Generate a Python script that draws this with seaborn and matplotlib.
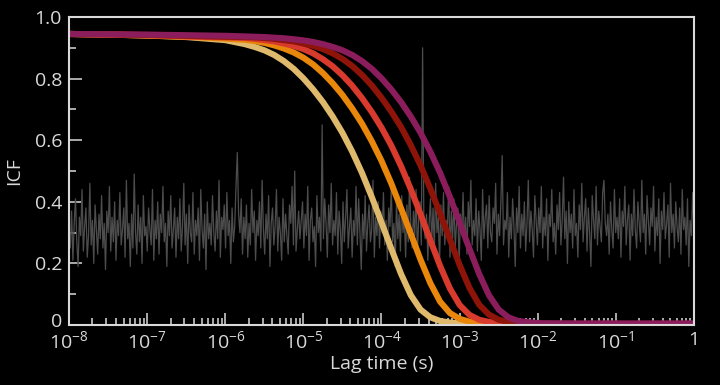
import numpy as np
import pandas as pd
import seaborn as sns
import matplotlib.pyplot as plt
from matplotlib.transforms import ScaledTranslation
from matplotlib.ticker import FixedLocator, FixedFormatter, LogLocator, NullFormatter

# lag-time grid (log10 seconds) shared by the five correlation curves
log_lag = [-8, -7.5, -7, -6.5, -6,
           -5.75, -5.625, -5.5, -5.375, -5.25, -5.125, -5.0, -4.875, -4.75, -4.625,
           -4.5, -4.375, -4.25, -4.125, -4.0, -3.875, -3.75, -3.625, -3.5, -3.375,
           -3.25, -3.125, -3.0, -2.875, -2.75, -2.625, -2.5, -2.375, -2.25,
           -2.0, -1.5, -1.0, -0.5, 0]

icf_yellow = [0.945, 0.943, 0.94, 0.935, 0.925,
              0.912, 0.903, 0.892, 0.877, 0.857, 0.832, 0.801, 0.765, 0.724, 0.677,
              0.624, 0.563, 0.494, 0.416, 0.333, 0.248, 0.166, 0.097, 0.050, 0.025,
              0.013, 0.008, 0.005, 0.004, 0.003, 0.003, 0.002, 0.002, 0.002,
              0.002, 0.002, 0.002, 0.002, 0.002]
icf_orange = [0.945, 0.943, 0.94, 0.936, 0.93,
              0.926, 0.922, 0.916, 0.908, 0.898, 0.885, 0.868, 0.846, 0.818, 0.785,
              0.747, 0.703, 0.654, 0.597, 0.533, 0.460, 0.379, 0.296, 0.212, 0.136,
              0.076, 0.039, 0.020, 0.011, 0.007, 0.005, 0.004, 0.003, 0.003,
              0.003, 0.003, 0.003, 0.003, 0.003]
icf_red = [0.945, 0.943, 0.941, 0.937, 0.934,
           0.932, 0.929, 0.925, 0.921, 0.914, 0.906, 0.896, 0.882, 0.863, 0.840,
           0.811, 0.777, 0.737, 0.692, 0.641, 0.583, 0.516, 0.441, 0.360, 0.275,
           0.192, 0.119, 0.065, 0.033, 0.017, 0.010, 0.006, 0.005, 0.004,
           0.003, 0.003, 0.003, 0.003, 0.003]
icf_darkred = [0.945, 0.944, 0.942, 0.939, 0.936,
               0.935, 0.934, 0.932, 0.929, 0.925, 0.921, 0.914, 0.906, 0.896, 0.882,
               0.864, 0.841, 0.812, 0.778, 0.738, 0.693, 0.643, 0.584, 0.518, 0.443,
               0.362, 0.278, 0.195, 0.121, 0.066, 0.034, 0.017, 0.010, 0.007,
               0.004, 0.004, 0.004, 0.004, 0.004]
icf_purple = [0.945, 0.944, 0.943, 0.941, 0.939,
              0.937, 0.936, 0.935, 0.933, 0.931, 0.928, 0.924, 0.919, 0.912, 0.903,
              0.892, 0.877, 0.857, 0.832, 0.801, 0.765, 0.724, 0.677, 0.624, 0.563,
              0.494, 0.416, 0.333, 0.248, 0.166, 0.097, 0.050, 0.025, 0.013,
              0.006, 0.005, 0.005, 0.005, 0.005]

curve_names = ["c1", "c2", "c3", "c4", "c5"]
curve_colors = ["#dfb96c", "#e8870c", "#d93a2e", "#8e1409", "#8b1d5c"]

# background (uncorrelated) trace, evenly spaced in log time
noise_icf = [
    0.30, 0.25, 0.37, 0.21, 0.33, 0.41, 0.27, 0.19, 0.35, 0.29, 0.44, 0.24,
    0.32, 0.38, 0.22, 0.29, 0.46, 0.26, 0.34, 0.20, 0.39, 0.31, 0.23, 0.36,
    0.28, 0.42, 0.25, 0.33, 0.18, 0.37, 0.30, 0.45, 0.24, 0.35, 0.27, 0.40,
    0.21, 0.34, 0.29, 0.43, 0.26, 0.31, 0.38, 0.22, 0.47, 0.28, 0.33, 0.19,
    0.36, 0.25, 0.49, 0.30, 0.23, 0.39, 0.27, 0.35, 0.20, 0.42, 0.29, 0.32,
    0.24, 0.38, 0.31, 0.26, 0.44, 0.21, 0.34, 0.28, 0.40, 0.23, 0.36, 0.30,
    0.45, 0.27, 0.33, 0.19, 0.37, 0.29, 0.42, 0.25, 0.31, 0.38, 0.22, 0.35,
    0.28, 0.41, 0.24, 0.32, 0.46, 0.26, 0.36, 0.20, 0.39, 0.30, 0.27, 0.43,
    0.23, 0.34, 0.29, 0.38, 0.21, 0.44, 0.31, 0.25, 0.36, 0.18, 0.40, 0.28,
    0.33, 0.26, 0.42, 0.30, 0.24, 0.37, 0.28, 0.47, 0.22, 0.35, 0.31, 0.39,
    0.25, 0.43, 0.29, 0.34, 0.20, 0.38, 0.27, 0.32, 0.45, 0.56, 0.36, 0.30,
    0.41, 0.23, 0.35, 0.28, 0.39, 0.22, 0.33, 0.26, 0.44, 0.30, 0.37, 0.21,
    0.34, 0.29, 0.40, 0.25, 0.47, 0.31, 0.23, 0.36, 0.28, 0.42, 0.19, 0.33,
    0.38, 0.26, 0.32, 0.44, 0.24, 0.35, 0.30, 0.21, 0.41, 0.27, 0.36, 0.29,
    0.23, 0.39, 0.33, 0.45, 0.26, 0.50, 0.24, 0.31, 0.37, 0.28, 0.34, 0.40,
    0.25, 0.36, 0.29, 0.45, 0.21, 0.34, 0.38, 0.27, 0.32, 0.19, 0.42, 0.30,
    0.35, 0.24, 0.65, 0.28, 0.41, 0.33, 0.22, 0.39, 0.30, 0.46, 0.26, 0.34,
    0.29, 0.43, 0.23, 0.37, 0.31, 0.20, 0.40, 0.27, 0.35, 0.44, 0.25, 0.32,
    0.38, 0.22, 0.34, 0.29, 0.45, 0.26, 0.41, 0.30, 0.18, 0.36, 0.28, 0.42,
    0.24, 0.33, 0.39, 0.27, 0.31, 0.47, 0.22, 0.35, 0.29, 0.40, 0.25, 0.37,
    0.30, 0.43, 0.26, 0.34, 0.21, 0.38, 0.32, 0.45, 0.27, 0.33, 0.19, 0.41,
    0.28, 0.36, 0.24, 0.42, 0.30, 0.35, 0.22, 0.39, 0.27, 0.48, 0.31, 0.25,
    0.37, 0.29, 0.44, 0.23, 0.34, 0.40, 0.26, 0.90, 0.32, 0.28, 0.36, 0.21,
    0.33, 0.41, 0.27, 0.38, 0.24, 0.46, 0.30, 0.35, 0.20, 0.39, 0.29, 0.43,
    0.26, 0.34, 0.31, 0.45, 0.22, 0.37, 0.28, 0.41, 0.25, 0.33, 0.38, 0.19,
    0.36, 0.30, 0.43, 0.27, 0.35, 0.23, 0.40, 0.32, 0.47, 0.26, 0.34, 0.29,
    0.41, 0.24, 0.37, 0.31, 0.21, 0.44, 0.28, 0.35, 0.39, 0.25, 0.42, 0.30,
    0.27, 0.38, 0.33, 0.46, 0.23, 0.36, 0.29, 0.40, 0.55, 0.26, 0.34, 0.31,
    0.43, 0.22, 0.35, 0.28, 0.41, 0.32, 0.19, 0.38, 0.30, 0.45, 0.25, 0.36,
    0.29, 0.40, 0.24, 0.33, 0.47, 0.27, 0.37, 0.31, 0.22, 0.42, 0.34, 0.26,
    0.38, 0.30, 0.45, 0.25, 0.35, 0.29, 0.41, 0.21, 0.36, 0.32, 0.44, 0.27,
    0.33, 0.23, 0.39, 0.31, 0.43, 0.26, 0.34, 0.48, 0.28, 0.37, 0.20, 0.40,
    0.30, 0.36, 0.25, 0.44, 0.29, 0.33, 0.22, 0.39, 0.31, 0.46, 0.27, 0.35,
    0.41, 0.24, 0.38, 0.30, 0.19, 0.42, 0.34, 0.28, 0.45, 0.26, 0.37, 0.32,
    0.27, 0.43, 0.47, 0.33, 0.29, 0.36, 0.23, 0.40, 0.31, 0.25, 0.44, 0.30,
    0.35, 0.28, 0.41, 0.22, 0.37, 0.32, 0.45, 0.26, 0.34, 0.39, 0.21, 0.36,
    0.29, 0.44, 0.31, 0.25, 0.40, 0.33, 0.27, 0.47, 0.30, 0.36, 0.23, 0.42,
    0.34, 0.26, 0.38, 0.32, 0.45, 0.24, 0.35, 0.29, 0.41, 0.20, 0.37, 0.31,
    0.43, 0.28, 0.33, 0.39, 0.22, 0.46, 0.30, 0.36, 0.25, 0.40, 0.32, 0.27,
    0.38, 0.23, 0.44, 0.31, 0.35, 0.26, 0.41, 0.19, 0.34, 0.29, 0.43, 0.30,
]

x_ticks = [1e-8, 1e-7, 1e-6, 1e-5, 1e-4, 1e-3, 1e-2, 1e-1, 1]
x_labels = [r"$10^{-8}$", r"$10^{-7}$", r"$10^{-6}$", r"$10^{-5}$", r"$10^{-4}$",
            r"$10^{-3}$", r"$10^{-2}$", r"$10^{-1}$", "1"]
y_ticks = [0, 0.2, 0.4, 0.6, 0.8, 1.0]
y_labels = ["0", "0.2", "0.4", "0.6", "0.8", "1.0"]

lag = 10.0 ** np.array(log_lag)
df = pd.concat([
    pd.DataFrame({"lag": lag, "icf": vals, "sample": name})
    for name, vals in zip(curve_names,
                          [icf_yellow, icf_orange, icf_red, icf_darkred, icf_purple])
])
noise_lag = np.logspace(-8, 0, len(noise_icf))

fg = "#d9d9d9"
sns.set_style("ticks")
plt.rcParams["font.family"] = ["Open Sans", "DejaVu Sans"]
plt.rcParams["mathtext.fontset"] = "custom"
plt.rcParams["mathtext.rm"] = "Open Sans"
plt.rcParams["mathtext.it"] = "Open Sans:italic"
plt.rcParams["mathtext.bf"] = "Open Sans:bold"

fig = plt.figure(figsize=(7.2, 3.85), dpi=100, facecolor="black")
ax = fig.add_axes([0.0958, 0.1558, 0.8681, 0.8])
ax.set_facecolor("black")
ax.set_xscale("log")

sns.lineplot(x=noise_lag, y=noise_icf, color="#4d4d4d", lw=0.9, sort=False, ax=ax)
sns.lineplot(data=df, x="lag", y="icf", hue="sample", hue_order=curve_names,
             palette=curve_colors, lw=4.4, estimator=None, sort=False,
             legend=False, ax=ax, solid_capstyle="round", solid_joinstyle="round")

ax.set_xlim(1e-8, 1)
ax.set_ylim(0, 1)

ax.xaxis.set_major_locator(FixedLocator(x_ticks))
ax.xaxis.set_major_formatter(FixedFormatter(x_labels))
ax.xaxis.set_minor_locator(LogLocator(base=10, subs=np.arange(2, 10), numticks=20))
ax.xaxis.set_minor_formatter(NullFormatter())
ax.yaxis.set_major_locator(FixedLocator(y_ticks))
ax.yaxis.set_major_formatter(FixedFormatter(y_labels))
ax.yaxis.set_minor_locator(FixedLocator([0.1, 0.3, 0.5, 0.7, 0.9]))

for s in ax.spines.values():
    s.set_color(fg)
    s.set_linewidth(1.5)
ax.tick_params(which="both", direction="in", color=fg, labelcolor=fg,
               top=False, right=False, width=1.1, labelsize=14)
ax.tick_params(which="major", length=9)
ax.tick_params(which="minor", length=5)
ax.tick_params(axis="x", pad=4)
ax.tick_params(axis="y", pad=5)

ax.set_xlabel("Lag time (s)", color=fg, fontsize=14, labelpad=2)
ax.set_ylabel("ICF", color=fg, fontsize=14, labelpad=8)

# lift the "0" label a little so it clears the 10^-8 label below it
fig.canvas.draw()
zero_lbl = ax.yaxis.get_major_ticks()[0].label1
zero_lbl.set_transform(zero_lbl.get_transform()
                       + ScaledTranslation(0, 5 / 100, fig.dpi_scale_trans))

fig.savefig("out.png", dpi=100, facecolor="black")
